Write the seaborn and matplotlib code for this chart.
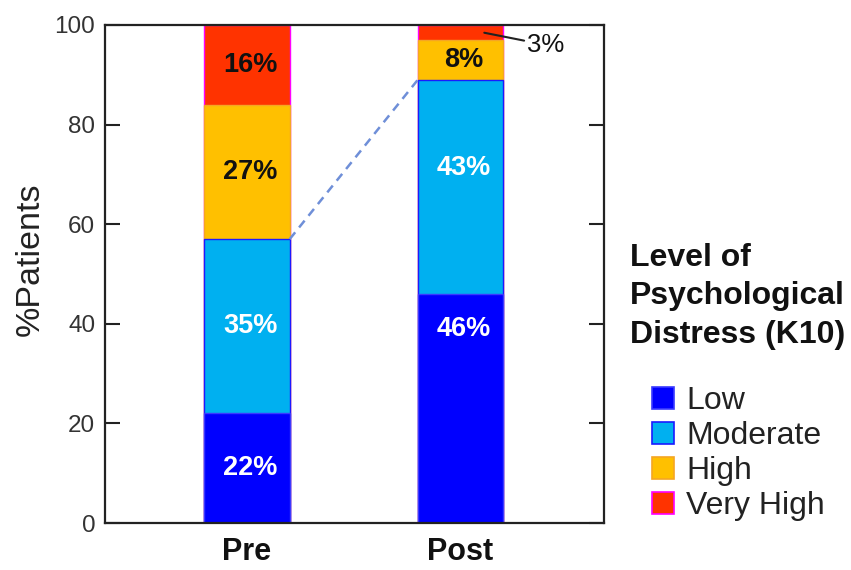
import matplotlib
matplotlib.use("Agg")
import matplotlib.pyplot as plt
from matplotlib.patches import Patch
import numpy as np
import pandas as pd
import seaborn as sns

# ---- data -------------------------------------------------------------
groups = ["Pre", "Post"]
levels = ["Low", "Moderate", "High", "Very High"]
low = [22, 46]
moderate = [35, 43]
high = [27, 8]
very_high = [16, 3]

# ---- styling ----------------------------------------------------------
fill_colors = {"Low": "#0000FF", "Moderate": "#00B0F0",
               "High": "#FFC000", "Very High": "#FF3300"}
edge_colors = {"Low": "#3A3AFF", "Moderate": "#1A1AFF",
               "High": "#F5A623", "Very High": "#FF00FF"}
text_colors = {"Low": "white", "Moderate": "white",
               "High": "#111111", "Very High": "#111111"}

sns.set_theme(style="ticks")
plt.rcParams["font.family"] = ["Liberation Sans", "DejaVu Sans"]

rows = []
series = {"Low": low, "Moderate": moderate, "High": high, "Very High": very_high}
for gi, g in enumerate(groups):
    running = 0
    for lvl in levels:
        v = series[lvl][gi]
        rows.append({"group": g, "level": lvl, "value": v,
                     "bottom": running, "top": running + v})
        running += v
df = pd.DataFrame(rows)

fig = plt.figure(figsize=(8.51, 5.70), dpi=100)
ax = fig.add_axes([105 / 851, 1 - 523 / 570, 499 / 851, 498 / 570])

# Stack by drawing cumulative tops, tallest layer first
for lvl in reversed(levels):
    sub = df[df["level"] == lvl]
    sns.barplot(data=sub, x="group", y="top", order=groups,
                color=fill_colors[lvl], edgecolor=edge_colors[lvl],
                linewidth=1.0, width=0.40, saturation=1, ax=ax)

# Segment labels (Post Very High is labelled outside with a leader line)
label_y_override = {("Post", "Low"): 39.0, ("Post", "Moderate"): 71.3}
for _, r in df.iterrows():
    xi = groups.index(r["group"])
    if r["group"] == "Post" and r["level"] == "Very High":
        continue
    y = label_y_override.get((r["group"], r["level"]),
                             r["bottom"] + r["value"] / 2)
    ax.text(xi + 0.017, y, f"{r['value']}%", ha="center", va="center",
            fontsize=19.5, fontweight="bold", color=text_colors[r["level"]],
            zorder=5)

vh = df[(df["group"] == "Post") & (df["level"] == "Very High")].iloc[0]
ax.annotate(f"{vh['value']}%", xy=(1.105, vh["bottom"] + vh["value"] / 2),
            xytext=(32, -9), textcoords="offset points",
            ha="left", va="center", fontsize=18.5, color="#111111",
            arrowprops=dict(arrowstyle="-", color="#222222", lw=1.5,
                            shrinkA=0, shrinkB=1),
            annotation_clip=False, zorder=6)

# Connector between the Moderate tops
pre_mod = df[(df["group"] == "Pre") & (df["level"] == "Moderate")]["top"].iloc[0]
post_mod = df[(df["group"] == "Post") & (df["level"] == "Moderate")]["top"].iloc[0]
ax.plot([0.2, 0.8], [pre_mod, post_mod], linestyle=(0, (3.5, 2.5)),
        color="#6F8FD8", lw=1.8, zorder=4)

# ---- axes -------------------------------------------------------------
ax.set_xlim(-0.665, 1.672)
ax.set_ylim(0, 100)
ax.set_yticks([0, 20, 40, 60, 80, 100])
ax.set_xlabel("")
ax.set_ylabel("%Patients", fontsize=24.5, color="#222222")
ax.yaxis.set_label_coords(-0.119, 0.53)
ax.tick_params(axis="y", direction="in", length=11, width=1.5,
               right=True, labelsize=17.5, labelcolor="#333333", pad=7,
               color="#222222")
ax.tick_params(axis="x", length=0, pad=10)
for lab in ax.get_xticklabels():
    lab.set_fontsize(22)
    lab.set_fontweight("bold")
    lab.set_color("#111111")
for side in ["left", "right", "top", "bottom"]:
    ax.spines[side].set_visible(True)
    ax.spines[side].set_linewidth(1.6)
    ax.spines[side].set_color("#222222")
ax.grid(False)

# ---- legend -----------------------------------------------------------
fig.text(630 / 851, 1 - 243 / 570, "Level of\nPsychological\nDistress (K10)",
         ha="left", va="top", fontsize=23, fontweight="bold",
         color="#111111", linespacing=1.36)
handles = [Patch(facecolor=fill_colors[l], edgecolor=edge_colors[l],
                 linewidth=1.2, label=l) for l in levels]
leg = fig.legend(handles=handles, loc="upper left",
                 bbox_to_anchor=(652 / 851, 1 - 386 / 570),
                 frameon=False, fontsize=23, labelspacing=0.16,
                 handlelength=0.68, handleheight=0.68, handletextpad=0.4,
                 borderpad=0, borderaxespad=0)
for t in leg.get_texts():
    t.set_color("#222222")

fig.savefig("out.png", dpi=100)
